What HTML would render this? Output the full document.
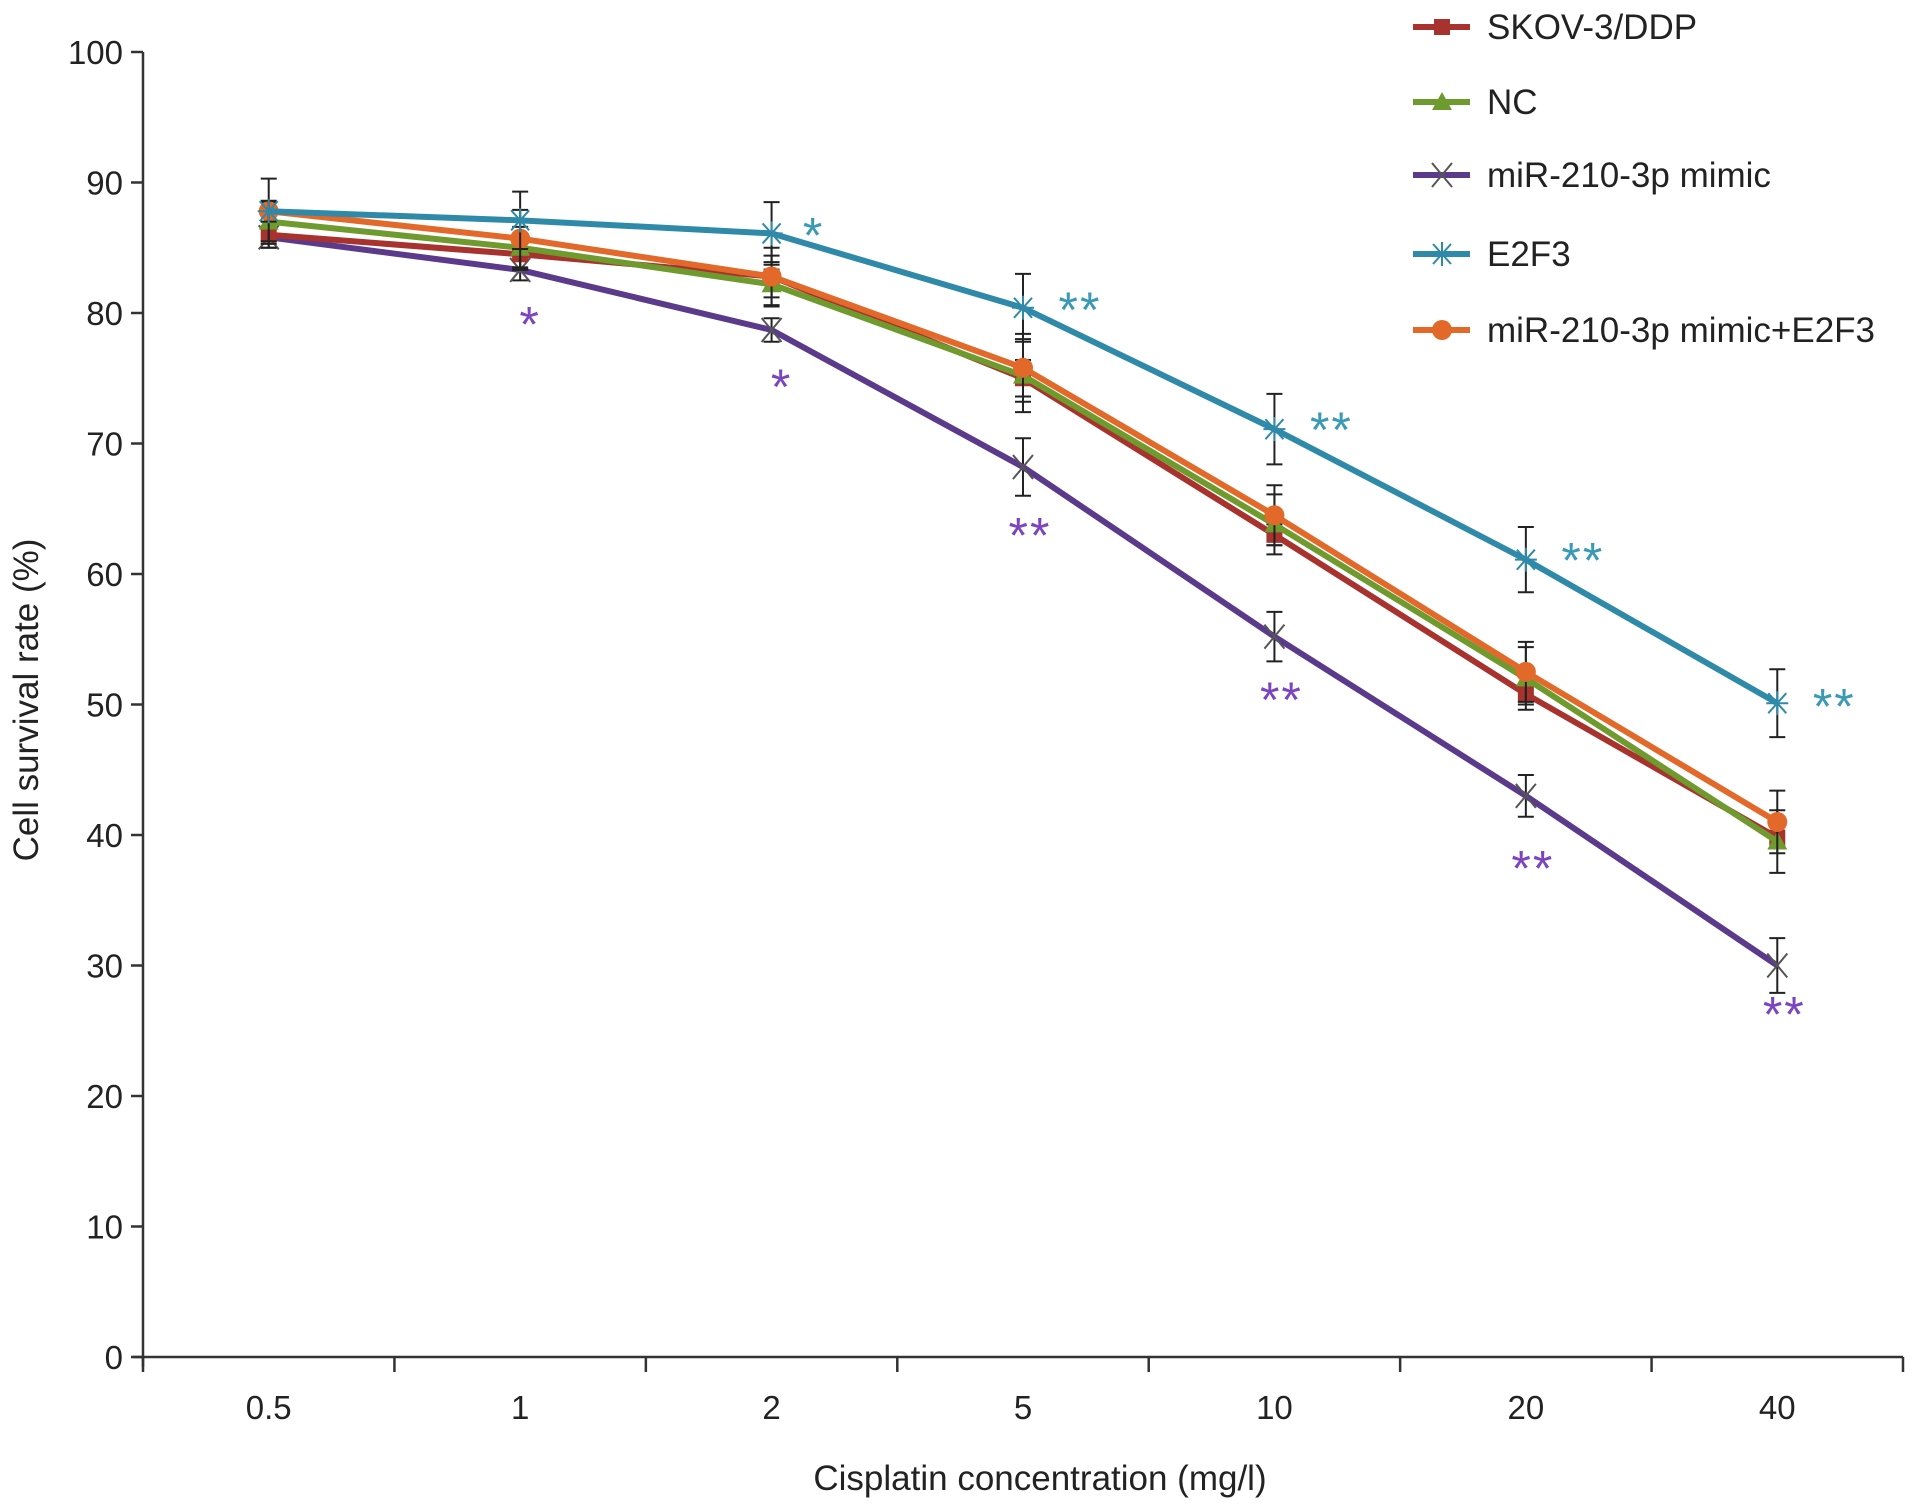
<!DOCTYPE html>
<html><head><meta charset="utf-8"><style>
html,body{margin:0;padding:0;background:#fff;}
svg{display:block;font-family:"Liberation Sans",Arial,sans-serif;}
</style></head><body>
<svg id="chart" width="1913" height="1507" viewBox="0 0 1913 1507" xmlns="http://www.w3.org/2000/svg">
<g id="axes"></g>
<g id="series"></g>
<g id="legend"></g>
<text x="0" y="0" transform="translate(38,700) rotate(-90)" text-anchor="middle" font-size="35" fill="#222">Cell survival rate (%)</text>
<text x="1040" y="1490" text-anchor="middle" font-size="35" fill="#222">Cisplatin concentration (mg/l)</text>
</svg>
<script>
const categories = ["0.5","1","2","5","10","20","40"];
const yTicks = [0,10,20,30,40,50,60,70,80,90,100];
const seriesNames = ["SKOV-3/DDP","NC","miR-210-3p mimic","E2F3","miR-210-3p mimic+E2F3"];
const skovValues = [86.0,84.5,82.8,75.0,63.0,50.8,39.8];
const ncValues = [87.0,85.0,82.2,75.2,63.8,52.0,39.5];
const mimicValues = [85.8,83.3,78.7,68.2,55.2,43.0,30.0];
const e2f3Values = [87.8,87.1,86.1,80.4,71.1,61.1,50.1];
const comboValues = [87.8,85.7,82.8,75.8,64.5,52.5,41.0];
const skovErr = [1.0,1.2,1.6,1.4,0.8,0.8,0.8];
const ncErr = [1.5,1.6,1.7,2.8,2.3,2.4,2.4];
const mimicErr = [0.8,0.8,0.9,2.2,1.9,1.6,2.1];
const e2f3Err = [0.8,2.2,2.4,2.6,2.7,2.5,2.6];
const comboErr = [2.5,2.2,2.2,2.6,2.3,2.3,2.4];
const e2f3Stars = ["","","*","**","**","**","**"];
const mimicStars = ["","*","*","**","**","**","**"];
const mimicStarLevel = [0,79.9,75.1,63.7,51.1,38.2,27.0];
const e2f3StarLevel = [0,0,86.7,81.0,71.8,61.8,50.6];

const NS="http://www.w3.org/2000/svg";
const X0=143, X1=1903, Y0=1357, Y100=52;
const band=(X1-X0)/categories.length;
function xPos(i){return X0+band*(i+0.5);}
function yPos(v){return Y0-(v/100)*(Y0-Y100);}
function mk(tag,attrs,parent){const e=document.createElementNS(NS,tag);for(const k in attrs)e.setAttribute(k,attrs[k]);parent.appendChild(e);return e;}

const axes=document.getElementById('axes');
let e=mk('line',{x1:X0,y1:Y100,x2:X0,y2:Y0+10,stroke:'#333','stroke-width':2.5},axes);


e=mk('line',{x1:X0-10,y1:Y0,x2:X1,y2:Y0,stroke:'#333','stroke-width':2.5},axes);


yTicks.forEach(t=>{
  const y=yPos(t);
  const l=mk('line',{x1:X0-12,y1:y,x2:X0,y2:y,stroke:'#333','stroke-width':2.5},axes);
  
  
  const tx=mk('text',{x:X0-20,y:y+12,'text-anchor':'end','font-size':33,fill:'#222'},axes);
  tx.textContent=t;
  
  
});
for(let i=0;i<=categories.length;i++){
  const x=X0+band*i;
  const l=mk('line',{x1:x,y1:Y0,x2:x,y2:Y0+15,stroke:'#333','stroke-width':2.5},axes);
  
  
}
categories.forEach((c,i)=>{
  const tx=mk('text',{x:xPos(i),y:Y0+62,'text-anchor':'middle','font-size':33,fill:'#222'},axes);
  tx.textContent=c;
  
  
});

const colors=['#a8322d','#6e9a2e','#5b3a8c','#2e8aa8','#e2692a'];
const allVals=[skovValues,ncValues,mimicValues,e2f3Values,comboValues];
const allErr=[skovErr,ncErr,mimicErr,e2f3Err,comboErr];
const markers=['square','triangle','x','star','circle'];
const slugs=['skov','nc','mimic','e2f3','combo'];

function drawMarker(type,x,y,color,g){
  let m;
  if(type==='square') m=mk('rect',{x:x-8,y:y-8,width:16,height:16,fill:color},g);
  else if(type==='triangle') m=mk('polygon',{points:`${x},${y-10} ${x+10},${y+8} ${x-10},${y+8}`,fill:color},g);
  else if(type==='circle') m=mk('circle',{cx:x,cy:y,r:10,fill:color},g);
  else if(type==='x') m=mk('path',{d:`M${x-10},${y-12}L${x+10},${y+12}M${x-10},${y+12}L${x+10},${y-12}`,stroke:'#555','stroke-width':2,fill:'none'},g);
  else m=mk('path',{d:`M${x-11},${y}L${x+11},${y}M${x},${y-12}L${x},${y+12}M${x-9},${y-10}L${x+9},${y+10}M${x-9},${y+10}L${x+9},${y-10}`,stroke:color,'stroke-width':2,fill:'none'},g);
  return m;
}

const sg=document.getElementById('series');
const order=[2,0,1,4,3];
order.forEach(s=>{
  const vals=allVals[s], err=allErr[s];
  const g=mk('g',{},sg);
  
  
  vals.forEach((v,i)=>{
    const x=xPos(i);
    const eb=mk('path',{d:`M${x},${yPos(v+err[i])}L${x},${yPos(v-err[i])}M${x-8},${yPos(v+err[i])}L${x+8},${yPos(v+err[i])}M${x-8},${yPos(v-err[i])}L${x+8},${yPos(v-err[i])}`,stroke:'#222','stroke-width':2,fill:'none'},g);
    
    
  });
  const d=vals.map((v,i)=>(i?'L':'M')+xPos(i)+','+yPos(v)).join('');
  const line=mk('path',{d:d,stroke:colors[s],'stroke-width':6,fill:'none','stroke-linejoin':'round'},g);
  
  
  vals.forEach((v,i)=>{
    const m=drawMarker(markers[s],xPos(i),yPos(v),colors[s],g);
    
    
  });
});

e2f3StarLevel.forEach((v,i)=>{
  if(!e2f3Stars[i])return;
  const cx=xPos(i)+(e2f3Stars[i].length>1?57:42);
  const t=mk('text',{x:cx,y:yPos(v)+27,'text-anchor':'middle','font-size':50,'letter-spacing':2,fill:'#3a9ab5'},sg);
  t.textContent=e2f3Stars[i];
  
  
});
mimicStarLevel.forEach((v,i)=>{
  if(!mimicStars[i])return;
  const cx=xPos(i)+(mimicStars[i].length>1?7:10);
  const t=mk('text',{x:cx,y:yPos(v)+27,'text-anchor':'middle','font-size':50,'letter-spacing':2,fill:'#7b44c0'},sg);
  t.textContent=mimicStars[i];
  
  
});

const lg=document.getElementById('legend');
const legY=[27,102,175,254,330];
seriesNames.forEach((n,s)=>{
  const g=mk('g',{},lg);
  
  
  mk('line',{x1:1413,y1:legY[s],x2:1470,y2:legY[s],stroke:colors[s],'stroke-width':6},g);
  drawMarker(markers[s],1442,legY[s],colors[s],g);
  const t=mk('text',{x:1487,y:legY[s]+12,'font-size':35,fill:'#222'},g);
  t.textContent=n;
});
</script>
</body></html>
